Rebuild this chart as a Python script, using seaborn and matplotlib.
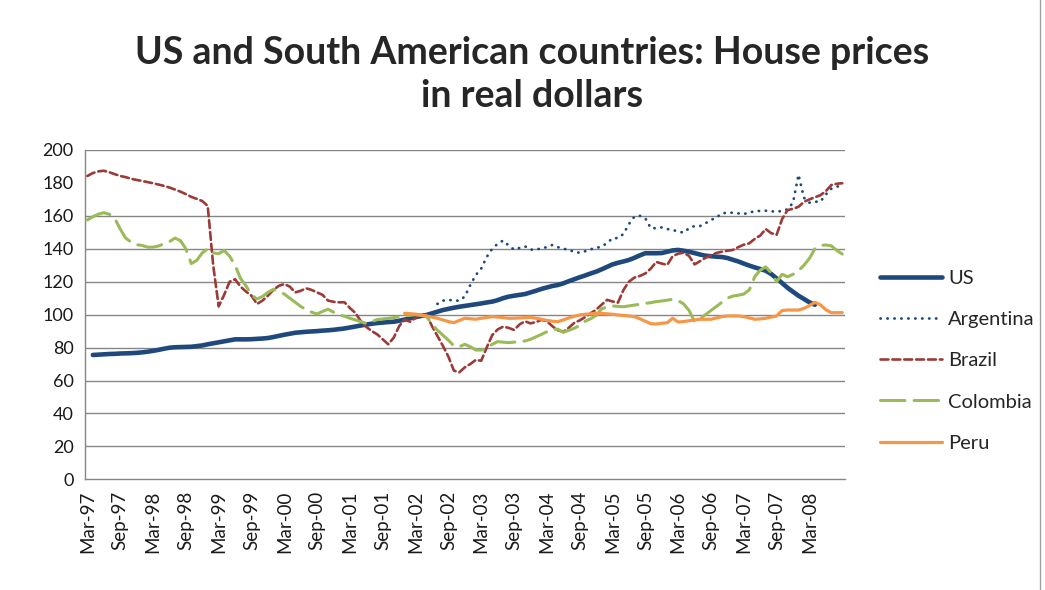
import numpy as np
import pandas as pd
import matplotlib
matplotlib.use("Agg")
import matplotlib.pyplot as plt
import seaborn as sns
from matplotlib.lines import Line2D

# monthly categories, Mar-97 .. Sep-08
months = pd.date_range("1997-03-01", periods=139, freq="MS").strftime("%b-%y").tolist()

us = [None, 75.5, 75.7, 75.9, 76.1, 76.2, 76.4, 76.5, 76.6, 76.8,
      77.1, 77.5, 78.0, 78.6, 79.3, 79.9, 80.2, 80.3, 80.4, 80.5, 80.9, 81.3,
      82.0, 82.6, 83.2, 83.8, 84.4, 85.0, 85.0, 85.0, 85.1, 85.3, 85.5, 85.8,
      86.4, 87.1, 87.8, 88.4, 89.0, 89.3, 89.6, 89.8, 90.0, 90.3, 90.5, 90.8,
      91.2, 91.6, 92.2, 92.8, 93.4, 94.0, 94.5, 94.9, 95.2, 95.5, 95.7, 96.3,
      97.0, 97.8, 98.5, 99.2, 99.8, 100.8, 101.8, 102.8, 103.5, 104.2, 104.8, 105.3,
      105.8, 106.3, 106.8, 107.4, 107.9, 108.8, 110.0, 110.9, 111.5, 112.0, 112.5, 113.5,
      114.5, 115.6, 116.5, 117.4, 118.0, 119.0, 120.3, 121.5, 122.7, 123.8, 125.0, 126.1,
      127.5, 129.0, 130.5, 131.5, 132.3, 133.2, 134.5, 136.0, 137.3, 137.3, 137.3, 137.4,
      138.2, 139.0, 139.3, 138.8, 138.2, 137.4, 136.5, 135.8, 135.5, 135.2, 135.0, 134.4,
      133.3, 132.3, 131.0, 129.8, 128.7, 127.7, 126.7, 124.7, 122.0, 119.2, 116.3, 113.9,
      111.5, 109.5, 107.5, 106.0, None, None, None, None, None]

argentina = [None] * 64 + [
      106.5, 108.5, 109, 108.5, 108.5, 111,
      118, 124, 128, 135, 140, 143, 145, 142, 139.5, 140.5, 141.5, 139.5,
      139.5, 140.3, 141, 142.3, 141, 140, 139.5, 138, 137.6, 138.5, 139.7, 140.5,
      141.3, 143.5, 146.4, 146.5, 149, 155, 159.5, 160, 158.5, 152.5, 152.5, 153,
      152, 151.4, 150.5, 149.8, 152.5, 153.8, 153.8, 155.5, 157.5, 159, 161.5, 161.9,
      161.9, 161.5, 161.1, 162, 162.8, 163, 163.1, 162.8, 162.5, 163, 164, 168,
      185, 171, 168, 168.6, 168.6, 173, 176.5, 177.7, 178.5]

brazil = [184.2, 186, 187, 187.4, 186.5, 185.3, 184.2, 183.5, 182.5, 181.8,
      181.2, 180.5, 179.8, 179, 178.2, 177.2, 176, 174.7, 173.2, 171.5, 170.3, 169,
      166, 130, 105, 112, 120, 121.5, 117, 114, 111.5, 106.5, 108.5, 111.5,
      115, 117.5, 118.6, 117, 113.5, 114.5, 116, 115, 113.5, 112, 108.5, 107.8,
      107.5, 107.5, 104, 101, 96, 92.5, 90, 88, 85, 82, 86, 93,
      97, 95.7, 98, 100.5, 100, 93, 87, 81, 74.5, 66, 65, 68,
      70, 72.5, 72, 80, 87.5, 91, 92.7, 92, 90.7, 94, 96, 94.7,
      95.5, 96.8, 96, 93, 90.5, 89.6, 92, 95, 96.5, 98.5, 100.8, 103,
      106, 109, 108, 107.3, 115, 120, 122.5, 123.5, 125, 128, 132, 131,
      130.2, 135.5, 137, 137.6, 135.6, 130.5, 132.5, 134.5, 136, 137.5, 138.2, 138.8,
      139.3, 141, 142.5, 143.3, 146, 148, 152, 149.5, 148.5, 158, 163.5, 164.3,
      165.5, 168.5, 170, 171.3, 172.5, 175, 178.7, 179.5, 179.8]

colombia = [157.5, 159.5, 161, 161.9, 161, 158.5, 152, 146.5, 144, 142.5,
      142, 141, 141, 141.7, 143, 144.3, 146.5, 145, 140, 131, 133, 137.5,
      140, 137.5, 137, 139, 135.5, 130, 122, 117.5, 112, 109.5, 111, 113.5,
      115.4, 114, 112.5, 110, 107.5, 105, 103, 101.5, 100.4, 102, 103.3, 101.5,
      100, 99, 97.8, 96.8, 95.7, 94.7, 95.8, 97, 97.4, 97.7, 98.2, 98.8,
      99.3, 99.6, 100, 99.5, 99, 94, 90.5, 87.5, 84.5, 81, 80.5, 82,
      80.5, 78.5, 78.5, 79.5, 82, 83.6, 83.3, 83, 83.3, 83.6, 84, 85,
      86.5, 88, 89.6, 91, 91.2, 89.2, 90.5, 91.7, 93.5, 96, 97.5, 99.5,
      103.5, 104.7, 105.3, 105, 104.8, 105.3, 105.8, 106.3, 106.8, 107.3, 107.9, 108.3,
      108.8, 109.3, 108.5, 106.5, 102.5, 95.8, 97.5, 100, 102.5, 105, 107.5, 110,
      111.3, 111.8, 112.5, 115, 123, 127, 129, 125.5, 120, 124.5, 123, 124.5,
      126.7, 130, 134.2, 140, 142, 142.3, 141.8, 139, 136.8]

peru = [None] * 58 + [
      100.8, 100.6, 100.3, 99.8, 99.2, 98.5, 97.8, 96.8, 95.8, 95.1, 96.5, 97.8,
      97.5, 97.2, 97.8, 98.3, 98.8, 98.5, 98.2, 97.8, 97.8, 98, 98.2, 98.4,
      97.8, 97.2, 96.5, 96, 95.7, 96.8, 98, 99, 99.8, 100.2, 100.5, 100.8,
      100.8, 100.5, 100.2, 99.8, 99.5, 99.2, 98.8, 97.5, 96, 94.5, 94.3, 94.8,
      95.1, 97.8, 95.5, 95.8, 96.3, 96.8, 97.2, 97.2, 97.2, 98, 98.8, 99.2,
      99.2, 99.2, 98.8, 98, 97.2, 97.4, 97.8, 98.5, 99.2, 102.5, 102.8, 102.8,
      102.8, 103.8, 105.5, 107.5, 106, 103, 101.2, 101.2, 101.2]

series = ["US", "Argentina", "Brazil", "Colombia", "Peru"]
values = [us, argentina, brazil, colombia, peru]
colors = ["#1F497D", "#1F497D", "#9B3B37", "#9BBB59", "#F79646"]
widths = [3.3, 2.0, 1.9, 2.2, 2.3]
styles = ["-", (0, (0.1, 2.4)), (0, (3.0, 1.5)), (0, (8, 3)), "-"]

# y gridlines (the reference shows no line at 180)
grid_levels = [20, 40, 60, 80, 100, 120, 140, 160, 200]

sns.set_style("white")
plt.rcParams["font.family"] = ["Lato", "DejaVu Sans"]

fig = plt.figure(figsize=(10.45, 5.9), dpi=100)
ax = fig.add_axes([0.081, 0.1876, 0.7276, 0.5582])

idx = np.arange(len(months))
for k, (name, vals) in enumerate(zip(series, values)):
    y = np.array(vals, dtype=float)
    sns.lineplot(x=idx, y=y, ax=ax, color=colors[k], lw=widths[k],
                 linestyle=styles[k], estimator=None, sort=False,
                 dash_capstyle="round", solid_capstyle="round",
                 label=name, zorder=3 + k)

for g in grid_levels:
    ax.axhline(g, color="#868686", lw=1, zorder=1)

ax.set_xlim(-0.45, 138.05)
ax.set_ylim(0, 200)
ax.set_yticks(np.arange(0, 201, 20))
ax.set_xticks(idx[:133:6])
ax.set_xticklabels(months[:133:6], rotation=90)
ax.set_xticks(np.arange(-0.5, 139, 1), minor=True)
ax.tick_params(axis="x", which="major", length=0, pad=8, labelsize=13.5, colors="#1a1a1a")
ax.tick_params(axis="x", which="minor", length=5, width=1, color="#868686", direction="out")
ax.tick_params(axis="y", length=5, width=1, color="#868686", pad=3, labelsize=13,
               labelcolor="#1a1a1a", direction="out")
ax.set_xlabel("")
ax.set_ylabel("")

for s in ["top", "right"]:
    ax.spines[s].set_visible(False)
for s in ["left", "bottom"]:
    ax.spines[s].set_color("#868686")
    ax.spines[s].set_linewidth(1)

handles, labels = ax.get_legend_handles_labels()
ax.legend(handles, labels, loc="upper left", bbox_to_anchor=(0.842, 0.543),
          bbox_transform=fig.transFigure, frameon=False, fontsize=14.5,
          handlelength=3.1, handletextpad=0.3, labelspacing=1.2,
          borderpad=0, borderaxespad=0)

fig.text(0.509, 0.873, "US and South American countries: House prices\nin real dollars",
         ha="center", va="center", fontsize=27, fontweight="bold", linespacing=1.32)

fig.add_artist(Line2D([0.9952, 0.9952], [0, 1], color="#a0a0a0", lw=1))

fig.savefig("out.png", dpi=100)
